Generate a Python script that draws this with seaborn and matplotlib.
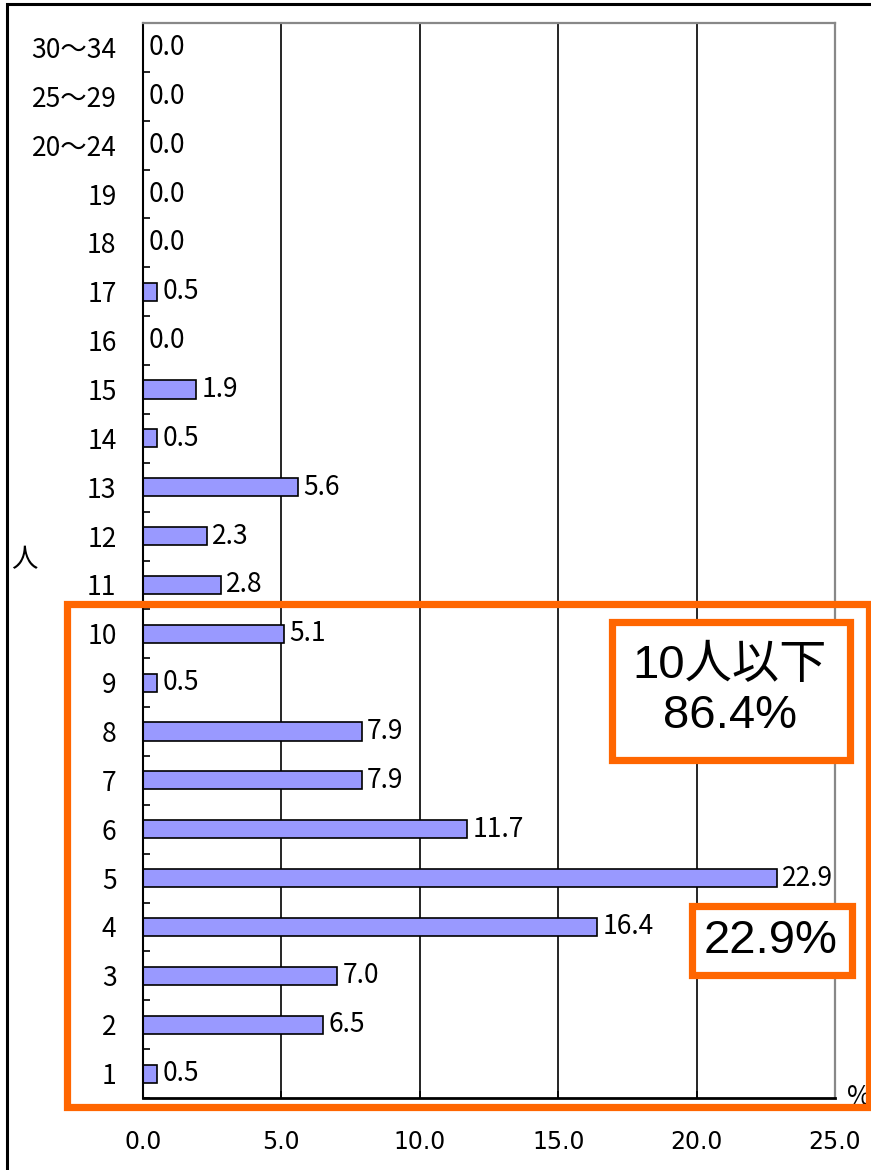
import matplotlib
matplotlib.use("Agg")
import matplotlib.pyplot as plt
import matplotlib.patches as patches
import seaborn as sns
import pandas as pd
import numpy as np

# --- データ (上から下の順) ---
categories = ["30～34", "25～29", "20～24", "19", "18", "17", "16", "15", "14", "13", "12",
              "11", "10", "9", "8", "7", "6", "5", "4", "3", "2", "1"]
percents = [0.0, 0.0, 0.0, 0.0, 0.0, 0.5, 0.0, 1.9, 0.5, 5.6, 2.3,
            2.8, 5.1, 0.5, 7.9, 7.9, 11.7, 22.9, 16.4, 7.0, 6.5, 0.5]
x_ticks = [0, 5, 10, 15, 20, 25]
grid_lines = [5, 10, 15, 20]
box1_text = "10人以下\n86.4%"
box2_text = "22.9%"

df = pd.DataFrame({"人数": categories, "割合": percents})

sns.set_theme(style="white")
jp_font = ["Noto Sans CJK JP", "DejaVu Sans"]
plt.rcParams["font.family"] = jp_font
plt.rcParams["text.color"] = "black"
plt.rcParams["xtick.color"] = "black"
plt.rcParams["ytick.color"] = "black"
plt.rcParams["xtick.labelcolor"] = "black"
plt.rcParams["ytick.labelcolor"] = "black"

W, H = 871, 1170
fig = plt.figure(figsize=(W / 100, H / 100), dpi=100)
fig.patch.set_facecolor("white")

# 軸の位置 (ピクセルから)
left, right, top, bottom = 143, 835, 23, 1098
ax = fig.add_axes([left / W, 1 - bottom / H, (right - left) / W, (bottom - top) / H])

sns.barplot(data=df, x="割合", y="人数", color="#9999ff", edgecolor="black",
            linewidth=1.2, width=0.37, saturation=1, ax=ax)

for xv in grid_lines:
    ax.axvline(xv, color="black", linewidth=1.2, zorder=0.5)

ax.set_xlim(0, 25)
ax.set_ylim(len(categories) - 0.5, -0.5)
ax.set_xticks(x_ticks)
ax.set_xticklabels([f"{v:.1f}" for v in x_ticks],
                   fontfamily=["Liberation Sans Narrow", "DejaVu Sans"], fontsize=17)
ax.set_xlabel("")
ax.set_ylabel("")

# 目盛
ax.set_yticks(np.arange(-0.5, len(categories), 1.0), minor=True)
ax.tick_params(axis="y", which="major", length=0, pad=19, labelsize=19)
ax.tick_params(axis="y", which="minor", direction="in", length=5, width=1.2, color="black", left=True)
ax.tick_params(axis="x", which="major", direction="in", length=5, width=1.2, color="black",
               bottom=True, pad=23)

for s in ["left", "bottom"]:
    ax.spines[s].set_color("black")
ax.spines["left"].set_linewidth(1.5)
ax.spines["bottom"].set_linewidth(2.0)
for s in ["top", "right"]:
    ax.spines[s].set_color("#888888")
    ax.spines[s].set_linewidth(1.6)
    ax.spines[s].set_visible(True)

ax.bar_label(ax.containers[0], fmt="%.1f", padding=4, fontsize=19, color="black")

# 単位
fig.text(24 / W, 1 - 560 / H, "人", fontsize=19, ha="center", va="center")
fig.text(847 / W, 1 - 1105 / H, "%", fontsize=19, ha="left", va="baseline", zorder=1)

# 外枠
fig.add_artist(patches.Rectangle((7 / W, -0.1), 1.0, 1.1 - 4 / H, transform=fig.transFigure,
                                 fill=False, edgecolor="black", linewidth=2.2, zorder=5))

orange = "#ff6600"
# 10人以下の範囲
fig.add_artist(patches.Rectangle((67 / W, 1 - 1107 / H), (869 - 67) / W, (1107 - 604) / H,
                                 transform=fig.transFigure, fill=False, edgecolor=orange,
                                 linewidth=5.2, zorder=10))
# 注記ボックス
fig.add_artist(patches.Rectangle((611.5 / W, 1 - 759.5 / H), (849.5 - 611.5) / W, (759.5 - 621.5) / H,
                                 transform=fig.transFigure, facecolor="white", edgecolor=orange,
                                 linewidth=5.2, zorder=10))
fig.text(730 / W, 1 - 691 / H, box1_text, fontsize=34, ha="center", va="center",
         family=["Liberation Sans", "Noto Sans CJK JP"], linespacing=1.15, zorder=11)
fig.add_artist(patches.Rectangle((691.5 / W, 1 - 974.5 / H), (851.5 - 691.5) / W, (974.5 - 905.5) / H,
                                 transform=fig.transFigure, facecolor="white", edgecolor=orange,
                                 linewidth=5.2, zorder=10))
fig.text(771 / W, 1 - 941 / H, box2_text, fontsize=34, ha="center", va="center",
         family=["Liberation Sans", "Noto Sans CJK JP"], zorder=11)

fig.savefig("out.png", dpi=100, facecolor="white")
